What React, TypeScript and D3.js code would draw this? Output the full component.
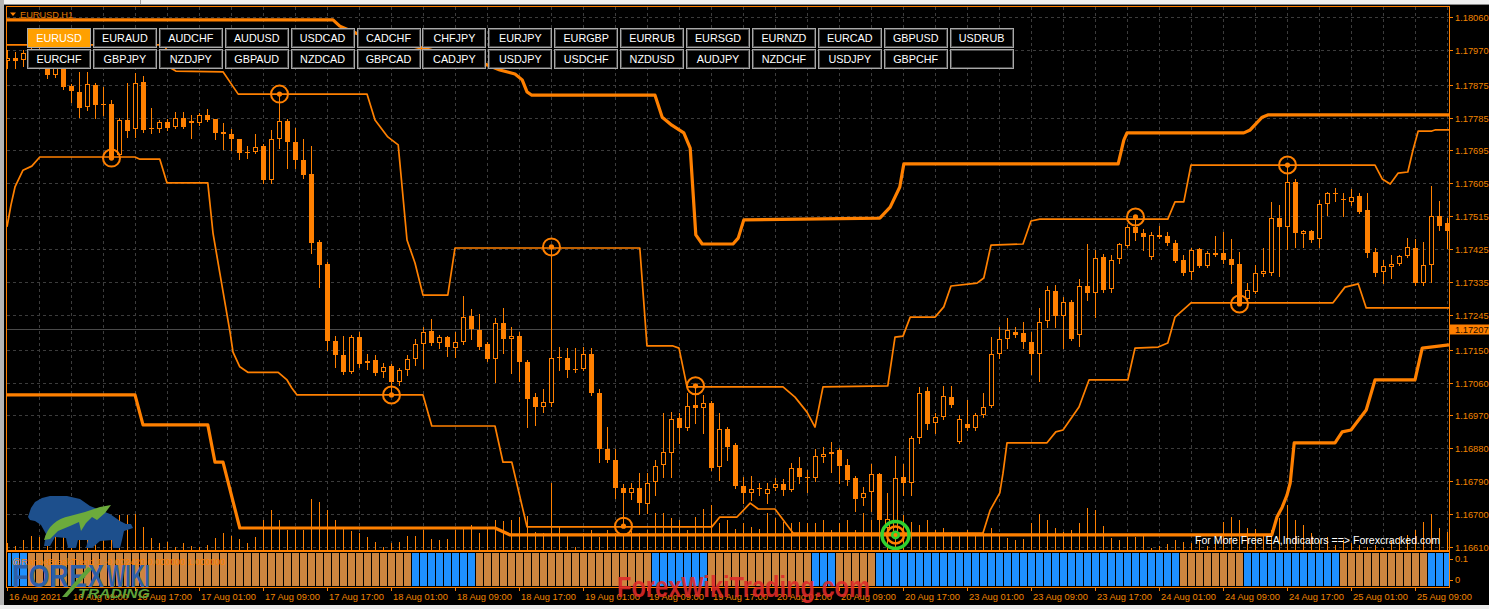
import React from "react";
import * as d3 from "d3";

// EURUSD H1 bars from 16 Aug 2021 01:00
const open = [
  1.17939, 1.17948, 1.17942, 1.17959, 1.17965, 1.17937, 1.17901, 1.17931, 1.17871, 1.17855,
  1.17814, 1.17874, 1.17822, 1.17822, 1.17682, 1.17778, 1.17753, 1.17883, 1.17756, 1.17753,
  1.17773, 1.17759, 1.17784, 1.17775, 1.1777, 1.17792, 1.17781, 1.17745, 1.1774, 1.17726,
  1.1769, 1.1769, 1.17707, 1.17614, 1.17726, 1.17775, 1.17718, 1.17669, 1.1763, 1.17445,
  1.17384, 1.17173, 1.17135, 1.17088, 1.17184, 1.17119, 1.17122, 1.17088, 1.17105, 1.17062,
  1.17094, 1.17125, 1.17165, 1.17201, 1.17168, 1.17184, 1.17154, 1.17171, 1.17242, 1.17204,
  1.17165, 1.17125, 1.17223, 1.17179, 1.17187, 1.17116, 1.1702, 1.16993, 1.17004, 1.1713,
  1.17127, 1.17097, 1.17097, 1.17138, 1.17031, 1.16878, 1.16848, 1.16771, 1.16758, 1.16771,
  1.16728, 1.16788, 1.16834, 1.16867, 1.16963, 1.16936, 1.16998, 1.1699, 1.17004, 1.16829,
  1.16933, 1.16889, 1.16777, 1.16758, 1.16771, 1.16755, 1.16771, 1.16782, 1.16766, 1.16826,
  1.16801, 1.16799, 1.16856, 1.16864, 1.16875, 1.16834, 1.16799, 1.16744, 1.16761, 1.1681,
  1.16662, 1.16648, 1.16801, 1.16785, 1.16908, 1.17037, 1.16949, 1.16966, 1.1702, 1.16897,
  1.16947, 1.16936, 1.16971, 1.16996, 1.17138, 1.17179, 1.17198, 1.17195, 1.17171, 1.17138,
  1.17228, 1.1731, 1.17242, 1.1728, 1.1719, 1.17324, 1.17305, 1.17403, 1.17316, 1.17398,
  1.17434, 1.17486, 1.17469, 1.17403, 1.17464, 1.17461, 1.17442, 1.17395, 1.17362, 1.17425,
  1.17379, 1.17415, 1.17415, 1.17398, 1.17384, 1.17289, 1.17308, 1.17357, 1.1736, 1.1751,
  1.17486, 1.17609, 1.17466, 1.17475, 1.17453, 1.17548, 1.17578, 1.17562, 1.17554, 1.1757,
  1.17532, 1.17417, 1.17362, 1.17376, 1.17384, 1.17406, 1.17428, 1.17332, 1.17382, 1.17515,
  1.17496,
];
const high = [
  1.1797, 1.17965, 1.1797, 1.17981, 1.17978, 1.17951, 1.17942, 1.17942, 1.17877, 1.1791,
  1.1791, 1.1788, 1.17869, 1.17833, 1.17784, 1.1788, 1.17907, 1.17899, 1.17811, 1.17778,
  1.17781, 1.178, 1.178, 1.17792, 1.17797, 1.17808, 1.17781, 1.1777, 1.17753, 1.17726,
  1.17707, 1.1774, 1.17712, 1.17751, 1.17849, 1.17781, 1.17756, 1.17726, 1.17707, 1.1745,
  1.1739, 1.17187, 1.17187, 1.1719, 1.17198, 1.17138, 1.17135, 1.17114, 1.17111, 1.171,
  1.17135, 1.17179, 1.17212, 1.17234, 1.1719, 1.17187, 1.17198, 1.17297, 1.17261, 1.17247,
  1.17171, 1.17236, 1.17264, 1.17212, 1.17198, 1.17122, 1.17031, 1.17042, 1.17431, 1.17157,
  1.17154, 1.17154, 1.17157, 1.17154, 1.17042, 1.16938, 1.16878, 1.16782, 1.16785, 1.16812,
  1.16812, 1.16848, 1.16977, 1.16979, 1.16977, 1.17031, 1.17051, 1.17026, 1.17009, 1.16977,
  1.16938, 1.16895, 1.16801, 1.16804, 1.16785, 1.16785, 1.16799, 1.16796, 1.1684, 1.16856,
  1.16821, 1.16878, 1.16884, 1.16897, 1.16881, 1.16851, 1.16804, 1.16774, 1.16837, 1.16812,
  1.16755, 1.16859, 1.16837, 1.16914, 1.17048, 1.17048, 1.16977, 1.17051, 1.17051, 1.16971,
  1.17012, 1.16977, 1.17031, 1.17184, 1.17212, 1.17236, 1.17212, 1.17226, 1.17198, 1.17264,
  1.17324, 1.17327, 1.17294, 1.17286, 1.17343, 1.17439, 1.17423, 1.17412, 1.17409, 1.17442,
  1.17491, 1.17513, 1.1748, 1.17472, 1.17488, 1.17472, 1.1745, 1.17409, 1.17428, 1.17428,
  1.1742, 1.17461, 1.17472, 1.17453, 1.17417, 1.17332, 1.17382, 1.17428, 1.17554, 1.17546,
  1.17655, 1.17617, 1.17477, 1.17477, 1.17559, 1.17581, 1.17592, 1.17578, 1.17589, 1.17578,
  1.17578, 1.17428, 1.17395, 1.17409, 1.17409, 1.17455, 1.17453, 1.17445, 1.17598, 1.17557,
  1.1751,
];
const low = [
  1.1792, 1.1792, 1.17926, 1.17948, 1.17928, 1.17893, 1.17896, 1.17863, 1.17827, 1.17786,
  1.17806, 1.17784, 1.17792, 1.17674, 1.17677, 1.17732, 1.17732, 1.17745, 1.17743, 1.17745,
  1.17751, 1.17756, 1.17756, 1.17729, 1.17764, 1.17775, 1.17726, 1.17699, 1.17696, 1.17671,
  1.17674, 1.17688, 1.17606, 1.17606, 1.17701, 1.17647, 1.17647, 1.17619, 1.17415, 1.17321,
  1.17149, 1.17103, 1.17083, 1.17086, 1.17103, 1.17097, 1.17081, 1.17075, 1.17026, 1.17054,
  1.17081, 1.17108, 1.171, 1.17163, 1.17154, 1.17133, 1.1713, 1.17165, 1.17179, 1.17152,
  1.17119, 1.17062, 1.17141, 1.17086, 1.17064, 1.16938, 1.16944, 1.16979, 1.16996, 1.17094,
  1.17075, 1.17088, 1.17094, 1.17026, 1.16842, 1.16842, 1.16744, 1.16667, 1.16741, 1.167,
  1.16703, 1.16752, 1.16801, 1.16801, 1.16895, 1.1693, 1.16949, 1.16922, 1.16821, 1.16793,
  1.16848, 1.16771, 1.1673, 1.16739, 1.16752, 1.1673, 1.16766, 1.16752, 1.16763, 1.16785,
  1.16761, 1.1679, 1.16842, 1.16815, 1.16785, 1.1678, 1.16708, 1.16725, 1.16708, 1.16681,
  1.16648, 1.16643, 1.16752, 1.16752, 1.16895, 1.16933, 1.16922, 1.1696, 1.16993, 1.16895,
  1.1693, 1.1693, 1.16966, 1.16993, 1.17127, 1.17154, 1.17184, 1.17154, 1.17083, 1.17064,
  1.17212, 1.17212, 1.17154, 1.17176, 1.1716, 1.17286, 1.17239, 1.17308, 1.17308, 1.17387,
  1.17431, 1.1745, 1.17423, 1.17398, 1.17455, 1.17436, 1.1739, 1.17355, 1.17343, 1.17376,
  1.17376, 1.17406, 1.17387, 1.17332, 1.17275, 1.17283, 1.17305, 1.17351, 1.17355, 1.17351,
  1.17425, 1.17431, 1.17431, 1.17445, 1.17431, 1.17518, 1.17557, 1.17516, 1.17546, 1.17524,
  1.17403, 1.17351, 1.17332, 1.17346, 1.17382, 1.17403, 1.17327, 1.17327, 1.17335, 1.17477,
  1.17428,
];
const close = [
  1.17948, 1.17939, 1.17962, 1.1797, 1.17937, 1.17901, 1.17931, 1.17869, 1.17857, 1.17811,
  1.17877, 1.17819, 1.17819, 1.17677, 1.17778, 1.17748, 1.1788, 1.17751, 1.17753, 1.17773,
  1.17756, 1.17784, 1.17759, 1.1777, 1.17792, 1.17778, 1.17743, 1.1774, 1.17726, 1.17688,
  1.17688, 1.17704, 1.17614, 1.17726, 1.17775, 1.17718, 1.17669, 1.17628, 1.17442, 1.17382,
  1.17173, 1.17135, 1.17088, 1.17184, 1.17111, 1.17114, 1.17086, 1.17103, 1.17062, 1.17094,
  1.17125, 1.17165, 1.17198, 1.17168, 1.17184, 1.17157, 1.17171, 1.17239, 1.17206, 1.17157,
  1.17125, 1.17223, 1.17179, 1.17187, 1.17116, 1.17015, 1.16993, 1.17007, 1.17127, 1.17127,
  1.17094, 1.17094, 1.17138, 1.17031, 1.16878, 1.16848, 1.16771, 1.16758, 1.16771, 1.1673,
  1.16785, 1.16832, 1.1687, 1.1696, 1.16936, 1.16996, 1.1699, 1.17004, 1.16826, 1.16933,
  1.16884, 1.16777, 1.16758, 1.16769, 1.16769, 1.16769, 1.16782, 1.16766, 1.16826, 1.16801,
  1.16799, 1.16859, 1.16864, 1.1687, 1.16832, 1.16793, 1.16741, 1.16758, 1.1681, 1.16684,
  1.16687, 1.16799, 1.16785, 1.16908, 1.17031, 1.16947, 1.16966, 1.17023, 1.16998, 1.1696,
  1.16936, 1.16971, 1.16993, 1.17138, 1.17179, 1.17204, 1.1719, 1.17171, 1.17138, 1.17226,
  1.17313, 1.17242, 1.1728, 1.17179, 1.17324, 1.17305, 1.17401, 1.17313, 1.17395, 1.17439,
  1.17486, 1.17469, 1.17458, 1.17464, 1.17458, 1.17442, 1.17392, 1.1736, 1.17423, 1.17379,
  1.17415, 1.17409, 1.17395, 1.17382, 1.17278, 1.17313, 1.1736, 1.17365, 1.1751, 1.17486,
  1.17609, 1.17469, 1.17475, 1.1745, 1.17548, 1.17578, 1.17576, 1.17559, 1.17568, 1.17527,
  1.17415, 1.1736, 1.17379, 1.17384, 1.17406, 1.17431, 1.17332, 1.17382, 1.17515, 1.17488,
  1.17475,
];
const tickVolume = [
  140, 80, 200, 280, 260, 360, 300, 440, 340, 500,
  340, 360, 460, 500, 700, 700, 720, 460, 240, 140,
  160, 60, 140, 80, 60, 100, 240, 340, 280, 220,
  140, 260, 600, 800, 600, 400, 400, 400, 1020, 960,
  800, 600, 440, 380, 340, 260, 160, 60, 140, 160,
  280, 280, 400, 220, 200, 220, 400, 440, 500, 340,
  420, 600, 580, 600, 660, 680, 360, 340, 1340, 480,
  280, 60, 340, 400, 260, 400, 340, 300, 380, 340,
  400, 740, 740, 640, 600, 400, 660, 820, 900, 540,
  600, 420, 540, 460, 420, 740, 640, 560, 540, 560,
  540, 540, 600, 400, 540, 600, 400, 740, 600, 600,
  1140, 860, 700, 560, 500, 600, 400, 440, 360, 300,
  400, 280, 400, 440, 300, 240, 200, 220, 540, 720,
  600, 440, 360, 400, 540, 840, 800, 480, 240, 200,
  260, 260, 300, 40, 80, 120, 200, 160, 140, 200,
  80, 200, 560, 660, 600, 440, 420, 300, 400, 640,
  900, 600, 500, 340, 200, 260, 100, 200, 140, 100,
  60, 100, 40, 200, 260, 300, 400, 560, 720, 440,
  360,
];
// lower pane trend state: 1 = up (blue), 0 = down (brown)
const trendUp = [
  1, 1, 1, 0, 0, 0, 0, 0, 0, 0,
  0, 0, 0, 0, 0, 0, 0, 0, 0, 0,
  0, 0, 0, 0, 0, 0, 0, 0, 0, 0,
  0, 0, 0, 0, 0, 0, 0, 0, 0, 0,
  0, 0, 0, 0, 0, 0, 0, 0, 0, 0,
  0, 1, 1, 1, 1, 1, 1, 1, 1, 0,
  0, 0, 0, 0, 0, 0, 0, 0, 0, 0,
  0, 0, 0, 0, 0, 0, 0, 0, 0, 0,
  0, 1, 1, 1, 1, 1, 1, 1, 0, 0,
  0, 0, 0, 0, 0, 0, 0, 0, 0, 0,
  0, 1, 1, 1, 0, 0, 0, 0, 0, 1,
  1, 1, 1, 1, 1, 1, 1, 1, 1, 1,
  1, 1, 1, 1, 1, 1, 1, 1, 1, 1,
  1, 1, 1, 1, 1, 1, 1, 1, 1, 1,
  1, 1, 1, 1, 1, 1, 1, 0, 0, 0,
  0, 0, 0, 0, 0, 1, 1, 1, 1, 1,
  1, 1, 1, 1, 1, 1, 1, 0, 0, 0,
  0, 0, 0, 0, 0, 0, 0, 0, 1, 1,
  1,
];

// channel lines as [bar, price] vertices
const upperOuter: [number, number][] = [
  [0, 1.18052], [40.75, 1.18052], [41.6, 1.18035], [43.6, 1.18016], [51.9, 1.17975], [59.1, 1.17937],
  [61.6, 1.17915], [63.5, 1.17904], [64.4, 1.17888], [65, 1.17855], [65.6, 1.17846], [81, 1.17846],
  [81.9, 1.17786], [83.1, 1.17764], [84.6, 1.17743], [85.4, 1.17701], [86.1, 1.17464], [86.9, 1.17439],
  [90.75, 1.17439], [91.4, 1.17455], [92.1, 1.17505], [109.1, 1.1751], [110.4, 1.1754], [111.6, 1.17595],
  [112.1, 1.17658], [138.9, 1.17658], [139.6, 1.17723], [140, 1.17743], [154.6, 1.17743], [155.4, 1.17751],
  [156.9, 1.17786], [157.6, 1.17792], [180.25, 1.17792],
];
const upperInner: [number, number][] = [
  [0, 1.17984], [19.75, 1.17984], [20.5, 1.1792], [21.1, 1.17912], [27, 1.1791], [28.9, 1.17849],
  [45, 1.17849], [46, 1.17778], [47.6, 1.17732], [48.9, 1.1771], [50, 1.1745], [51, 1.17387],
  [52, 1.17299], [55.1, 1.17299], [56, 1.17428], [79.1, 1.17428], [80, 1.1716], [83.25, 1.1716],
  [84, 1.17154], [85, 1.17048], [97, 1.17048], [98.5, 1.1702], [100, 1.16979], [101, 1.16938],
  [102, 1.17048], [110.1, 1.17051], [111, 1.17184], [112, 1.17187], [112.9, 1.17239], [116, 1.17239],
  [117.1, 1.17267], [118, 1.17324], [121.25, 1.17332], [122.1, 1.17346], [123, 1.17436], [127, 1.17439],
  [128, 1.17502], [129.1, 1.17507], [145.1, 1.17507], [146, 1.17554], [147.1, 1.17554], [148, 1.17655],
  [171, 1.17655], [171.9, 1.17617], [172.9, 1.17603], [173.9, 1.17633], [175.1, 1.17636], [175.75, 1.17696],
  [176.4, 1.17748], [178.1, 1.17748], [178.5, 1.17751], [180.25, 1.17751],
];
const lowerInner: [number, number][] = [
  [0, 1.17486], [0.5, 1.17546], [1, 1.17595], [2, 1.17641], [3.1, 1.17652], [4.1, 1.17677],
  [16, 1.17677], [16.6, 1.17671], [19.1, 1.17671], [20, 1.17606], [25.1, 1.17606], [25.75, 1.17469],
  [26.6, 1.1736], [27.9, 1.17195], [28.25, 1.17143], [29.1, 1.17103], [30.1, 1.17088], [33.9, 1.17088],
  [35, 1.17067], [35.6, 1.17045], [36.25, 1.17026], [52, 1.17026], [53.1, 1.16941], [61, 1.16941],
  [62, 1.16842], [63.1, 1.16842], [65, 1.16665], [88.1, 1.16665], [89.1, 1.16692], [91.25, 1.16692],
  [92.9, 1.1673], [93.9, 1.16714], [96, 1.16714], [98.25, 1.16648], [122, 1.16648], [122.9, 1.16711],
  [124.1, 1.16758], [124.5, 1.16812], [125, 1.16895], [130, 1.16895], [131.1, 1.16925], [132, 1.1693],
  [134, 1.16993], [135.25, 1.17067], [140.1, 1.17067], [141, 1.17154], [143.9, 1.17157], [145.1, 1.17168],
  [146, 1.17239], [148, 1.17278], [165.75, 1.17278], [167.25, 1.17321], [168.9, 1.1733], [169.9, 1.17264],
  [180.25, 1.17264],
];
const lowerOuter: [number, number][] = [
  [0, 1.17026], [16, 1.17026], [17, 1.16944], [25.1, 1.16944], [26, 1.16842], [27, 1.16842],
  [29.1, 1.16662], [61, 1.16662], [62.9, 1.16643], [158.1, 1.16643], [158.75, 1.16692], [159.4, 1.16719],
  [160, 1.16752], [160.4, 1.16785], [160.9, 1.16895], [166, 1.16895], [166.9, 1.16925], [168, 1.1693],
  [169.9, 1.16985], [171, 1.17067], [176, 1.17067], [176.9, 1.17154], [180.25, 1.17163],
];

// bars whose high/low touched the inner channel, and the outer-band breakout
const touches = [
  { bar: 13, side: "low" }, { bar: 34, side: "high" }, { bar: 48, side: "low" },
  { bar: 68, side: "high" }, { bar: 77, side: "low" }, { bar: 86, side: "high" },
  { bar: 141, side: "high" }, { bar: 154, side: "low" }, { bar: 160, side: "high" },
];
const breakout = { bar: 111, side: "low" };

const priceTicks = [
  1.1806, 1.1797, 1.17875, 1.17785, 1.17695, 1.17605, 1.17515, 1.17425, 1.17335,
  1.17245, 1.1715, 1.1706, 1.1697, 1.1688, 1.1679, 1.167, 1.1661,
];
const lastPrice = 1.17207;
const timeLabels = [
  "16 Aug 2021", "16 Aug 09:00", "16 Aug 17:00", "17 Aug 01:00", "17 Aug 09:00", "17 Aug 17:00",
  "18 Aug 01:00", "18 Aug 09:00", "18 Aug 17:00", "19 Aug 01:00", "19 Aug 09:00", "19 Aug 17:00",
  "20 Aug 01:00", "20 Aug 09:00", "20 Aug 17:00", "23 Aug 01:00", "23 Aug 09:00", "23 Aug 17:00",
  "24 Aug 01:00", "24 Aug 09:00", "24 Aug 17:00", "25 Aug 01:00", "25 Aug 09:00",
];
const symbolsTop = [
  "EURUSD", "EURAUD", "AUDCHF", "AUDUSD", "USDCAD", "CADCHF", "CHFJPY", "EURJPY",
  "EURGBP", "EURRUB", "EURSGD", "EURNZD", "EURCAD", "GBPUSD", "USDRUB",
];
const symbolsBottom = [
  "EURCHF", "GBPJPY", "NZDJPY", "GBPAUD", "NZDCAD", "GBPCAD", "CADJPY", "USDJPY",
  "USDCHF", "NZDUSD", "AUDJPY", "NZDCHF", "USDJPY", "GBPCHF", "",
];
const subTicks = [0.1, 0];

const FONT = "'Liberation Sans', Arial, sans-serif";
const ORANGE = "#ff8000";
const AXIS_TEXT = "#f28500";

export default function App() {
  const W = 1489;
  const H = 609;
  const left = 7;
  const right = 1449;
  const top = 7;
  const mainBottom = 551;
  const subTop = 553;
  const subBottom = 587;

  const x = d3.scaleLinear().domain([0, 180]).range([7, 1447]);
  const y = d3.scaleLinear().domain([1.1661, 1.1806]).range([547, 17]);
  const vy = d3.scaleLinear().domain([0, 2000]).range([550, 450]);
  const sy = d3.scaleLinear().domain([0, 0.1]).range([580, 559]);
  const band = d3.line<[number, number]>().x((d) => x(d[0])).y((d) => y(d[1]));
  const gridBars = d3.range(4, 181, 4);

  const bx = (k: number) => 27 + k * 65.9;

  return (
    <svg
      width={W}
      height={H}
      viewBox={`0 0 ${W} ${H}`}
      style={{ position: "absolute", left: 0, top: 0, display: "block", background: "#000" }}
      fontFamily={FONT}
    >
      <defs>
        <clipPath id="mainClip">
          <rect x={left} y={top} width={right - left} height={mainBottom - top} />
        </clipPath>
      </defs>
      <rect x={0} y={0} width={W} height={H} fill="#000" />
      {/* window chrome */}
      <rect x={0} y={0} width={W} height={4} fill="#f0f0f0" />
      <line x1={0} x2={W} y1={4.5} y2={4.5} stroke="#8a8a8a" />
      <line x1={140.5} x2={140.5} y1={0} y2={4} stroke="#a0a0a0" />
      <rect x={0} y={0} width={4} height={H} fill="#b4b4b4" />
      <rect x={0} y={605} width={W} height={4} fill="#ececec" />

      <g clipPath="url(#mainClip)">
        {/* grid */}
        {priceTicks.map((p) => (
          <line key={"gh" + p} x1={left} x2={right} y1={Math.round(y(p)) + 0.5} y2={Math.round(y(p)) + 0.5}
            stroke="#3c3c3c" strokeDasharray="3,3" />
        ))}
        {gridBars.map((b) => (
          <line key={"gv" + b} x1={Math.round(x(b)) + 0.5} x2={Math.round(x(b)) + 0.5} y1={top} y2={mainBottom}
            stroke="#3c3c3c" strokeDasharray="3,3" />
        ))}
        {/* last price line */}
        <line x1={left} x2={right} y1={Math.round(y(lastPrice)) + 0.5} y2={Math.round(y(lastPrice)) + 0.5}
          stroke="#4a4a4a" />

        {/* tick volumes */}
        {tickVolume.map((v, i) => (
          <line key={"v" + i} x1={Math.round(x(i)) + 0.5} x2={Math.round(x(i)) + 0.5} y1={vy(0)} y2={vy(v)}
            stroke={ORANGE} strokeWidth={1} />
        ))}

        {/* channel */}
        <path d={band(upperOuter) || ""} fill="none" stroke={ORANGE} strokeWidth={3.2} strokeLinejoin="round" />
        <path d={band(lowerOuter) || ""} fill="none" stroke={ORANGE} strokeWidth={3.2} strokeLinejoin="round" />
        <path d={band(upperInner) || ""} fill="none" stroke={ORANGE} strokeWidth={1.7} strokeLinejoin="round" />
        <path d={band(lowerInner) || ""} fill="none" stroke={ORANGE} strokeWidth={1.7} strokeLinejoin="round" />

        {/* candles */}
        <g shapeRendering="crispEdges">
          {open.map((o, i) => {
            const c = close[i];
            const cx = Math.round(x(i));
            const yh = Math.round(y(high[i]));
            const yl = Math.round(y(low[i]));
            const yt = Math.round(y(Math.max(o, c)));
            const yb = Math.round(y(Math.min(o, c)));
            const bull = c > o;
            return (
              <g key={"c" + i}>
                <line x1={cx + 0.5} x2={cx + 0.5} y1={yh} y2={yl + 1} stroke={ORANGE} />
                {bull ? (
                  <rect x={cx - 1.5} y={yt + 0.5} width={4} height={Math.max(yb - yt - 1, 0)}
                    fill="#000" stroke={ORANGE} />
                ) : (
                  <rect x={cx - 2} y={yt} width={5} height={Math.max(yb - yt, 1)} fill={ORANGE} />
                )}
              </g>
            );
          })}
        </g>

        {/* touch markers */}
        {touches.map((t, k) => {
          const cx = Math.round(x(t.bar)) + 0.5;
          const cy = y(t.side === "high" ? high[t.bar] : low[t.bar]);
          return (
            <g key={"t" + k}>
              <circle cx={cx} cy={cy} r={8.5} fill="none" stroke={ORANGE} strokeWidth={2} />
              <circle cx={cx} cy={cy} r={2.6} fill={ORANGE} />
            </g>
          );
        })}
        {(() => {
          const cx = Math.round(x(breakout.bar)) + 0.5;
          const cy = y(breakout.side === "high" ? high[breakout.bar] : low[breakout.bar]);
          return (
            <g>
              <circle cx={cx} cy={cy} r={13.5} fill="none" stroke="#2fd12f" strokeWidth={3.5} />
              <circle cx={cx} cy={cy} r={8.5} fill="none" stroke={ORANGE} strokeWidth={2.5} />
              <circle cx={cx} cy={cy} r={4.5} fill="#2fd12f" />
              <circle cx={cx} cy={cy} r={2} fill={ORANGE} />
            </g>
          );
        })()}

        <text x={1195} y={544} fontSize={11} fill="#ffffff" textLength={245} lengthAdjust="spacingAndGlyphs">
          For More Free EA,Indicators ==&gt; Forexcracked.com
        </text>
      </g>

      {/* lower pane histogram */}
      {trendUp.map((u, i) => {
        const cx = Math.round(x(i));
        const x0 = Math.max(cx - 3, left + 1);
        const x1 = Math.min(cx + 4, right);
        return (
          <rect key={"h" + i} x={x0} y={subTop} width={Math.max(x1 - x0, 0)} height={subBottom - subTop - 1}
            fill={u ? "#1e90ff" : "#cd853f"} shapeRendering="crispEdges" />
        );
      })}
      <text x={12} y={565} fontSize={9.3} fill={ORANGE} textLength={213} lengthAdjust="spacingAndGlyphs">
        @RangeBreakTrend 1 -0.002420 0.000000 1.000000
      </text>

      {/* frames */}
      <g fill="none" stroke={ORANGE} shapeRendering="crispEdges">
        <line x1={6} x2={right} y1={6.5} y2={6.5} strokeWidth={1.5} />
        <line x1={6.5} x2={6.5} y1={6} y2={subBottom} strokeWidth={1.5} />
        <line x1={right + 0.5} x2={right + 0.5} y1={6} y2={subBottom + 1} />
        <line x1={6} x2={right} y1={mainBottom} y2={mainBottom} strokeWidth={2} />
        <line x1={6} x2={right} y1={subBottom + 0.5} y2={subBottom + 0.5} />
      </g>

      {/* price axis */}
      {priceTicks.map((p) => {
        const yy = Math.round(y(p)) + 0.5;
        return (
          <g key={"pt" + p}>
            <line x1={right} x2={right + 4} y1={yy} y2={yy} stroke={ORANGE} />
            <text x={1455} y={yy + 3.3} fontSize={9.3} fill={AXIS_TEXT}>{p.toFixed(5)}</text>
          </g>
        );
      })}
      <rect x={1450} y={Math.round(y(lastPrice)) - 4.5} width={39} height={10} fill={ORANGE} />
      <text x={1455} y={Math.round(y(lastPrice)) + 3.8} fontSize={9.3} fill="#1a0d00">{lastPrice.toFixed(5)}</text>
      {subTicks.map((s) => (
        <g key={"st" + s}>
          <line x1={right} x2={right + 4} y1={Math.round(sy(s)) + 0.5} y2={Math.round(sy(s)) + 0.5} stroke={ORANGE} />
          <text x={1455} y={sy(s) + 3.3} fontSize={9.3} fill={AXIS_TEXT}>{String(s)}</text>
        </g>
      ))}

      {/* time axis */}
      {timeLabels.map((t, k) => {
        const tx = Math.round(x(k * 8)) + 0.5;
        return (
          <g key={"tl" + k}>
            <line x1={tx} x2={tx} y1={subBottom} y2={subBottom + 4} stroke={ORANGE} />
            <text x={tx + 1.5} y={600} fontSize={9.3} fill={AXIS_TEXT}>{t}</text>
          </g>
        );
      })}

      {/* symbol buttons */}
      {[symbolsTop, symbolsBottom].map((row, r) =>
        row.map((s, k) => {
          const active = r === 0 && k === 0;
          const by = r === 0 ? 28 : 49;
          return (
            <g key={"b" + r + k}>
              <rect x={bx(k) + 0.5} y={by + 0.5} width={63} height={19} fill={active ? "#ffa000" : "#000"}
                stroke="#a8a8a8" shapeRendering="crispEdges" />
              {!active && (
                <rect x={bx(k) + 1.5} y={by + 1.5} width={61} height={17} fill="none" stroke="#4a4a4a"
                  shapeRendering="crispEdges" />
              )}
              <text x={bx(k) + 32} y={by + 14} fontSize={10.8} fill="#ffffff" textAnchor="middle">{s}</text>
            </g>
          );
        })
      )}

      {/* title */}
      <path d="M10,12.5 L16,12.5 L13,16 Z" fill={ORANGE} />
      <text x={20} y={17.5} fontSize={9.2} fill="#e07800">EURUSD,H1</text>

      {/* logo */}
      <g>
        <path
          d="M28,517 L31,508 L35,502 L42,498 L50,496 L67,496 L80,499 L90,506 L100,510 L110,514 L120,521 L126,524 L131,524 L133,528 L124,531 L122,540 L120,548 L113,548 L112,540 L100,541 L92,548 L86,548 L88,540 L78,540 L76,548 L68,548 L66,538 L55,537 L50,546 L44,546 L46,534 L41,525 L35,521 L30,520 Z"
          fill="#1d4f8c"
        />
        <path
          d="M44,540 C48,526 56,519 70,516 L85,512 L100,507 L111,505 L105,513 L97,520 L92,517 L86,523 L81,531 L79,522 L70,526 L58,531 L50,539 Z"
          fill="#6cab3c"
        />
        <text x={12} y={587} fontSize={32} fontWeight="bold" fill="#2d5fa8" textLength={75} lengthAdjust="spacingAndGlyphs">FORE</text>
        <text x={88} y={587} fontSize={32} fontWeight="bold" fill="#2d5fa8" textLength={16} lengthAdjust="spacingAndGlyphs">X</text>
        <path d="M62,597 L88,567 L92,569 L67,597 Z" fill="#5fa33a" />
        <text x={107} y={587} fontSize={32} fontWeight="bold" fill="#2d5fa8" textLength={43} lengthAdjust="spacingAndGlyphs">WIKI</text>
        <text x={78} y={598} fontSize={13} fontWeight="bold" fontStyle="italic" fill="#5fa33a" textLength={72} lengthAdjust="spacingAndGlyphs">TRADING</text>
      </g>

      {/* watermark */}
      <text x={617} y={597} fontSize={30} fontWeight="bold" fill="#e02a2a" opacity={0.88} textLength={253}
        lengthAdjust="spacingAndGlyphs">ForexWikiTrading.com</text>
    </svg>
  );
}
